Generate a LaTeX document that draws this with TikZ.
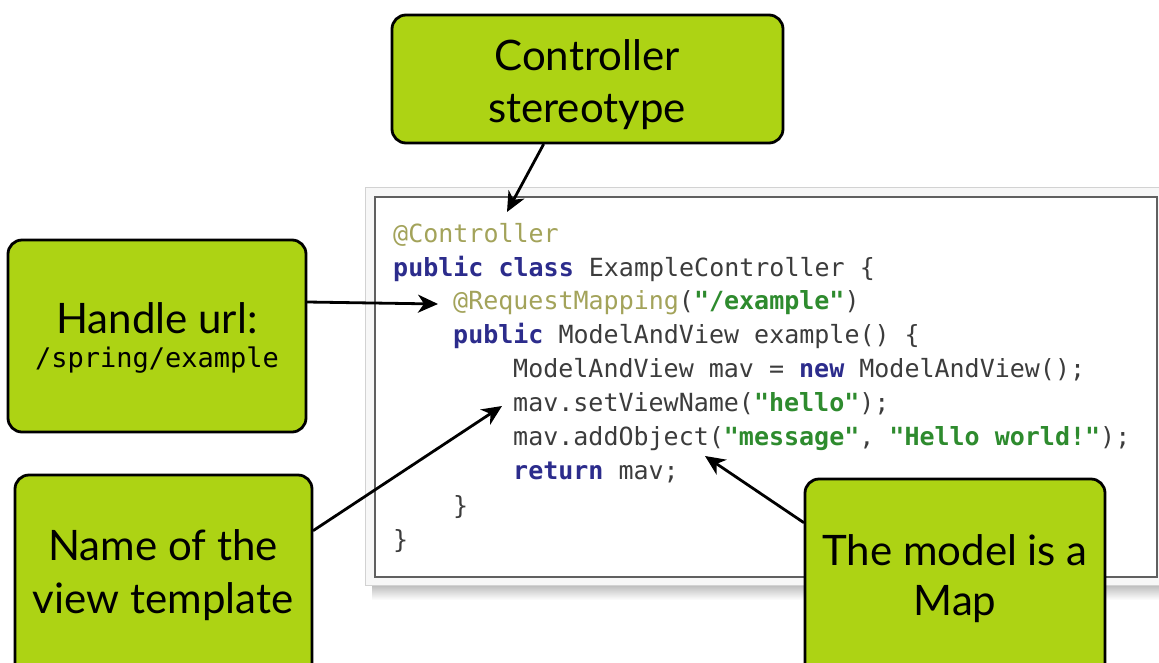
\documentclass[tikz,border=0pt]{standalone}
\usepackage{fontspec}
\setmainfont{Lato}
\newfontfamily\codefont{DejaVu Sans Mono}
\usetikzlibrary{arrows.meta}

\definecolor{callout}{HTML}{ADD314}
\definecolor{kwblue}{HTML}{2C2C8C}
\definecolor{strgreen}{HTML}{2E8B2E}
\definecolor{anncol}{HTML}{A3A35A}
\definecolor{plain}{HTML}{3C3C3C}

% Java syntax colouring helpers
\newcommand\cKw[1]{{\bfseries\color{kwblue}#1}}
\newcommand\cStr[1]{{\bfseries\color{strgreen}#1}}
\newcommand\cAnn[1]{{\color{anncol}#1}}

\tikzset{
  callbox/.style={draw=black, line width=2.8pt, fill=callout, rounded corners=14pt, inner sep=0pt},
  labeltext/.style={anchor=base, inner sep=0pt, font=\fontsize{42}{48}\selectfont},
  urltext/.style={anchor=base, inner sep=0pt, font=\codefont\fontsize{27}{32}\selectfont},
  codeline/.style={anchor=base west, inner sep=0pt, text=plain, font=\codefont\fontsize{25}{30}\selectfont},
  arr/.style={draw=black, line width=2.8pt, line cap=round, -{Stealth[length=20pt,width=18pt,inset=6pt]}}
}

\begin{document}
\begin{tikzpicture}[x=1pt,y=-1pt]
\useasboundingbox (0,0) rectangle (1159,662);
\clip (0,0) rectangle (1159,662);

% code panel: shadow, outer frame, inner sheet
\shade[top color=gray!70, bottom color=white] (372,580) rectangle (1159,600);
\draw[draw=gray!35, fill=gray!6, line width=1pt] (365,187) rectangle (1165,585);
\draw[draw=gray!75!black, fill=white, line width=1.6pt] (375,197) rectangle (1157,577);

% Java source
\node[codeline] (l1) at (393,242) {\cAnn{@Controller}};
\node[codeline] (l2) at (393,276) {\cKw{public class} ExampleController \{};
\node[codeline] (l3) at (453,309) {\cAnn{@RequestMapping}(\cStr{"/example"})};
\node[codeline] (l4) at (453,343) {\cKw{public} ModelAndView example() \{};
\node[codeline] (l5) at (513,377) {ModelAndView mav = \cKw{new} ModelAndView();};
\node[codeline] (l6) at (513,411) {mav.setViewName(\cStr{"hello"});};
\node[codeline] (l7) at (513,445) {mav.addObject(\cStr{"message"}, \cStr{"Hello world!"});};
\node[codeline] (l8) at (513,479) {\cKw{return} mav;};
\node[codeline] (l9) at (453,514) {\}};
\node[codeline] (l10) at (393,548) {\}};

% callout boxes
\node[callbox, minimum width=391pt, minimum height=128pt] (ctlbox) at (587.5,79) {};
\node[labeltext] (ctlA) at (587,70) {Controller};
\node[labeltext] (ctlB) at (587,122) {stereotype};

\node[callbox, minimum width=298pt, minimum height=192pt] (urlbox) at (157,336) {};
\node[labeltext] (urlA) at (157,333) {Handle url:};
\node[urltext] (urlB) at (157,367) {/spring/example};

\node[callbox, minimum width=297pt, minimum height=215pt] (viewbox) at (163.5,582.5) {};
\node[labeltext] (viewA) at (163,560) {Name of the};
\node[labeltext] (viewB) at (163,613) {view template};

\node[callbox, minimum width=300pt, minimum height=211pt] (mapbox) at (955,584.5) {};
\node[labeltext] (mapA) at (955,565) {The model is a};
\node[labeltext] (mapB) at (955,615) {Map};

% pointers into the source
\coordinate (ctlTip) at (507,212);
\coordinate (urlTip) at (438,304);
\coordinate (viewTip) at (502,406);
\coordinate (mapTip) at (705,456);

\draw[arr] ([xshift=-44pt]ctlbox.south) -- (ctlTip);
\draw[arr] ([yshift=34pt]urlbox.east) -- (urlTip);
\draw[arr] ([yshift=52pt]viewbox.east) -- (viewTip);
\draw[arr] ([yshift=62pt]mapbox.west) -- (mapTip);
\end{tikzpicture}
\end{document}
